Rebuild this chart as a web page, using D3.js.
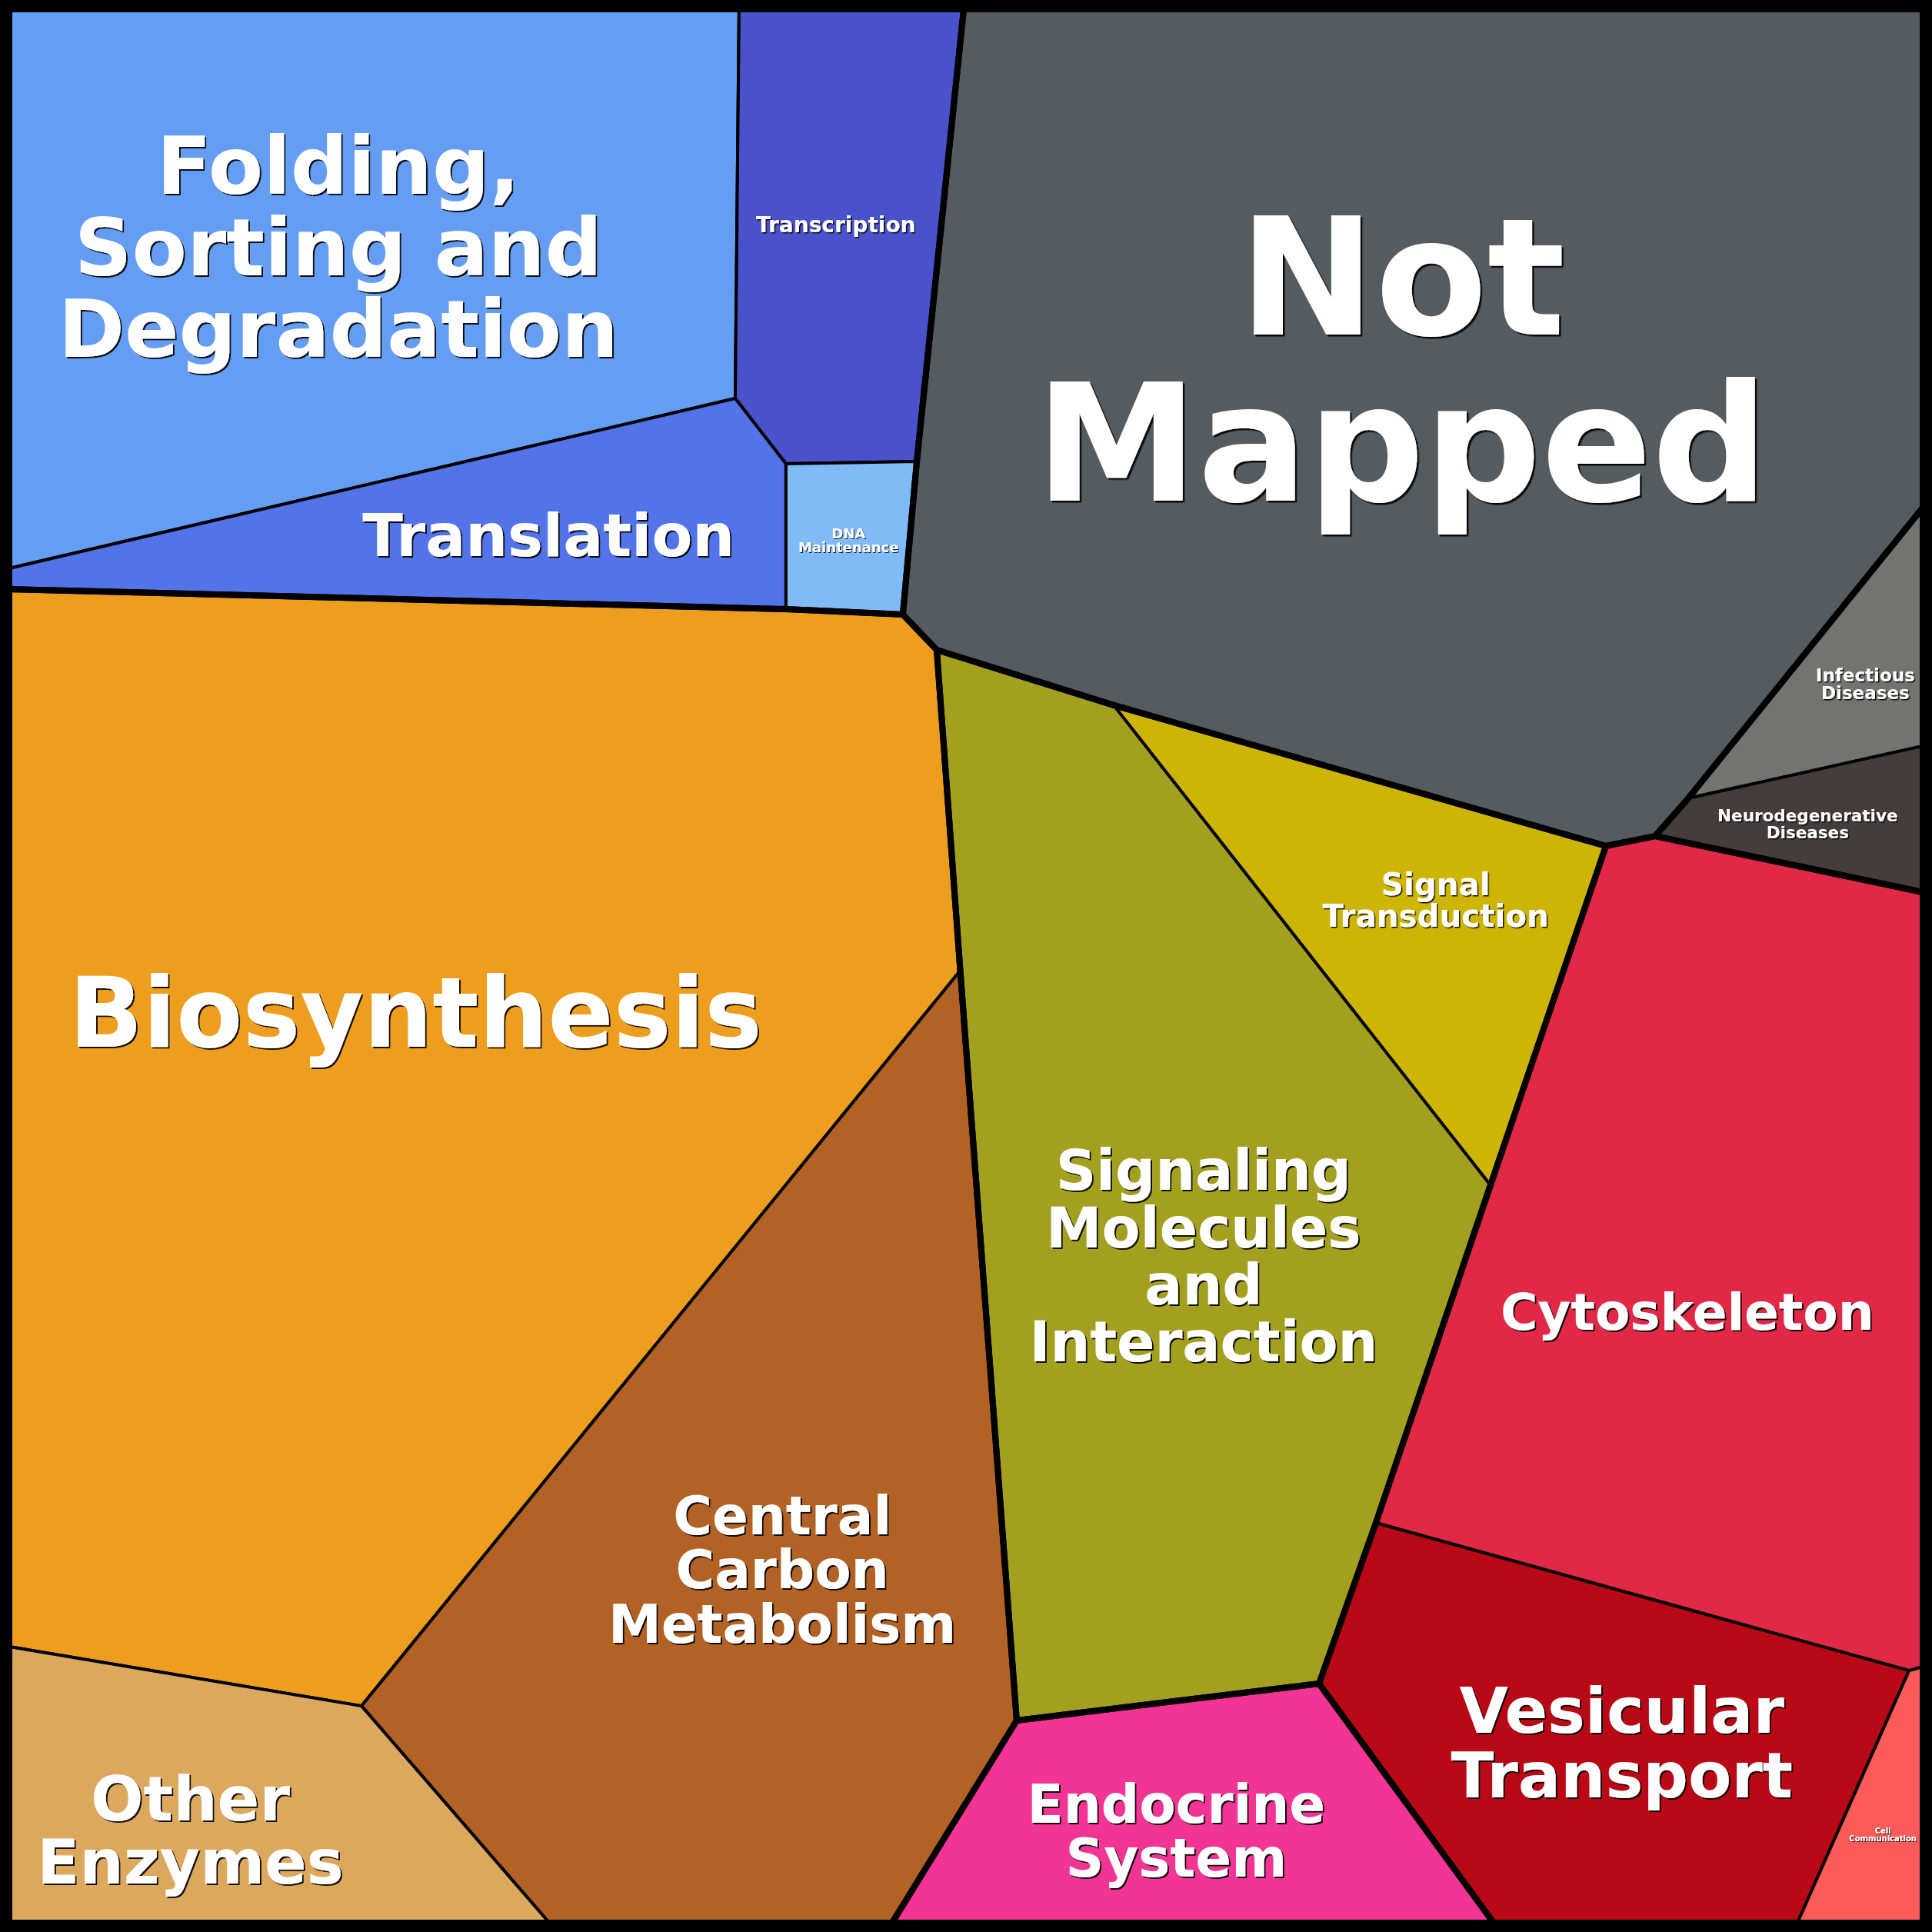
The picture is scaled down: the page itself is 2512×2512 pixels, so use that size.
<!DOCTYPE html>
<html><head><meta charset="utf-8">
<script src="https://cdn.jsdelivr.net/npm/d3@7"></script>
<style>html,body{margin:0;padding:0;background:#fff}svg{display:block}</style>
</head><body><svg id="chart"></svg>
<script>
// ---- DATA (units = percent of the plotting square) ----
const vertexIds = ["A","B","C","D","E","F","G","H","I","J","K","L","M","N","O","P","Q","R","S","T","U","V","W","X","Y","Z","AA","AB","AC","AD","AE","AF","BR","BL"];
const vertexX = [0,38.14,49.88,100,37.94,0,0,40.59,47.43,40.59,46.70,48.47,57.72,83.44,86.01,87.74,100,100,100,49.70,77.41,71.42,68.45,52.65,18.41,0,28.22,46.14,77.57,99.28,100,93.45,100,0];
const vertexY = [0,0,0,0,20.34,29.22,30.31,23.75,23.63,31.35,31.63,33.48,36.37,43.73,43.21,41.24,26.05,38.50,46.14,50.24,61.45,79.10,87.50,89.43,88.67,85.57,100,100,100,86.82,86.62,100,100,100];

const categories = ["Folding, Sorting and Degradation","Transcription","Translation","DNA Maintenance","Not Mapped","Infectious Diseases","Neurodegenerative Diseases","Biosynthesis","Central Carbon Metabolism","Other Enzymes","Signaling Molecules and Interaction","Signal Transduction","Cytoskeleton","Vesicular Transport","Cell Communication","Endocrine System"];
const categoryGroup = ["Genetic","Genetic","Genetic","Genetic","NotMapped","Disease","Disease","Metabolism","Metabolism","Metabolism","Environmental","Environmental","Cellular","Cellular","Cellular","Organismal"];
const cellVertices = [
  ["A","B","E","F"],
  ["B","C","I","H","E"],
  ["F","E","H","J","G"],
  ["H","I","K","J"],
  ["C","D","Q","P","O","N","M","L","K","I"],
  ["Q","R","P"],
  ["P","R","S","O"],
  ["G","J","K","L","T","Y","Z"],
  ["T","X","AB","AA","Y"],
  ["Z","Y","AA","BL"],
  ["L","M","U","V","W","X","T"],
  ["M","N","U"],
  ["N","O","S","AE","AD","V","U"],
  ["V","AD","AF","AC","W"],
  ["AD","AE","BR","AF"],
  ["X","W","AC","AB"]
];
const groups = ["Genetic","NotMapped","Disease","Metabolism","Environmental","Cellular","Organismal"];
const groupVertices = [
  ["A","C","I","K","J","G"],
  ["C","D","Q","P","O","N","M","L","K","I"],
  ["Q","S","O","P"],
  ["G","J","K","L","T","X","AB","BL"],
  ["L","M","N","U","V","W","X","T"],
  ["N","O","S","BR","AC","W","V","U"],
  ["X","W","AC","AB"]
];
const labelLines = [
  ["Folding,","Sorting and","Degradation"],["Transcription"],["Translation"],["DNA","Maintenance"],
  ["Not","Mapped"],["Infectious","Diseases"],["Neurodegenerative","Diseases"],["Biosynthesis"],
  ["Central","Carbon","Metabolism"],["Other","Enzymes"],["Signaling","Molecules","and","Interaction"],
  ["Signal","Transduction"],["Cytoskeleton"],["Vesicular","Transport"],["Cell","Communication"],["Endocrine","System"]
];

// ---- STYLE ----
const cellColors = ["#659df2","#4951cb","#5373e8","#80bbf8","#565b60","#737372","#453c3c","#ee9e1f","#b36225","#dba85e","#a3a020","#ceb505","#e12947","#b90916","#fd5a5a","#f23594"];
const fontSizes = [104,28,77,18,212,23,21.5,126,69,80.6,72.8,40.4,66,82,10,69];
// label nudges (px) relative to the cell centroid
const labelDx = [-17,-6,64,0,-31,27,-18,8,34,-45,37,42,-22,27,3,-18];
const labelDy = [-3,0,6,6,-26,0,5,-72,2,27,43,-16,61,5,6,8];

const W = 2512, H = 2512, inset = 12;
const svg = d3.select("#chart").attr("width", W).attr("height", H);
const x = d3.scaleLinear().domain([0,100]).range([inset, W - inset]);
const y = d3.scaleLinear().domain([0,100]).range([inset, H - inset]);
const vmap = new Map(vertexIds.map((id,i) => [id, [x(vertexX[i]), y(vertexY[i])]]));
const line = d3.line().curve(d3.curveLinearClosed);
const poly = ids => ids.map(id => vmap.get(id));

const defs = svg.append("defs");
[1,1.5,2,2.5].forEach(o => {
  defs.append("filter").attr("id", "sh" + String(o).replace(".","_"))
    .attr("x","-10%").attr("y","-10%").attr("width","120%").attr("height","130%")
    .append("feDropShadow").attr("dx", o).attr("dy", o).attr("stdDeviation", 0.3)
    .attr("flood-color", "#000").attr("flood-opacity", 0.9);
});

svg.append("rect").attr("width",W).attr("height",H).attr("fill","#fff");

const cells = categories.map((c,i) => ({name:c, group:categoryGroup[i], pts:poly(cellVertices[i]), color:cellColors[i], fs:fontSizes[i], lines:labelLines[i], dx:labelDx[i], dy:labelDy[i]}));

svg.append("g").selectAll("path").data(cells).join("path")
  .attr("d", d => line(d.pts))
  .attr("fill", d => d.color)
  .attr("stroke", "#000").attr("stroke-width", 4).attr("stroke-linejoin","miter");

svg.append("g").selectAll("path").data(groups.map((g,i)=>({g, pts:poly(groupVertices[i])}))).join("path")
  .attr("d", d => line(d.pts))
  .attr("fill", "none")
  .attr("stroke", "#000").attr("stroke-width", 8).attr("stroke-linejoin","miter");

svg.append("rect").attr("x",6).attr("y",6).attr("width",W-12).attr("height",H-12)
  .attr("fill","none").attr("stroke","#000").attr("stroke-width",12);

// labels
const lg = svg.append("g").attr("font-family","'DejaVu Sans', sans-serif").attr("font-weight","bold").attr("text-anchor","middle");
cells.forEach(d => {
  const [c0, c1] = d3.polygonCentroid(d.pts);
  const cx = c0 + d.dx, cy = c1 + d.dy;
  const lh = d.fs * 1.02;
  const n = d.lines.length;
  const capH = d.fs * 0.729;
  const blockH = (n-1)*lh + capH;
  const firstBase = cy - blockH/2 + capH;
  const off = d.fs >= 150 ? 2.5 : d.fs >= 60 ? 2 : d.fs >= 20 ? 1.5 : 1;
  const t = lg.append("text").attr("font-size", d.fs).attr("fill", "#fff")
    .attr("filter", `url(#sh${String(off).replace(".","_")})`);
  d.lines.forEach((ln,k) => t.append("tspan").attr("x", cx).attr("y", firstBase + k*lh).text(ln));
});
</script>
</body></html>
